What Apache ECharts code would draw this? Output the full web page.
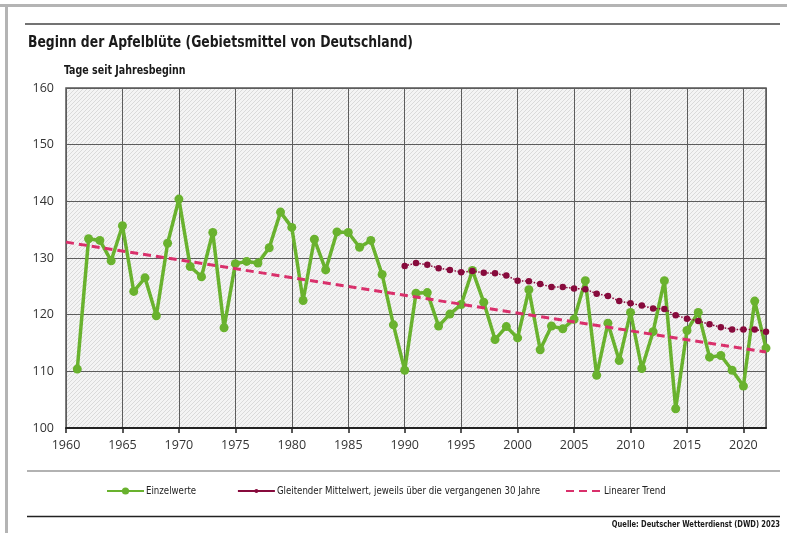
<!DOCTYPE html>
<html>
<head>
<meta charset="utf-8">
<script src="https://cdn.jsdelivr.net/npm/echarts@6/dist/echarts.min.js"></script>
<style>
  html, body { margin: 0; padding: 0; background: #fff; }
  #chart { width: 787px; height: 533px; }
</style>
</head>
<body>
<div id="chart"></div>
<script>
// Beginn der Apfelblüte, Tage seit Jahresbeginn (Gebietsmittel Deutschland)
const years = [
  1961, 1962, 1963, 1964, 1965, 1966, 1967, 1968, 1969, 1970,
  1971, 1972, 1973, 1974, 1975, 1976, 1977, 1978, 1979, 1980,
  1981, 1982, 1983, 1984, 1985, 1986, 1987, 1988, 1989, 1990,
  1991, 1992, 1993, 1994, 1995, 1996, 1997, 1998, 1999, 2000,
  2001, 2002, 2003, 2004, 2005, 2006, 2007, 2008, 2009, 2010,
  2011, 2012, 2013, 2014, 2015, 2016, 2017, 2018, 2019, 2020,
  2021, 2022
];
const einzelwerte = [
  110.4, 133.4, 133.1, 129.5, 135.7, 124.1, 126.5, 119.8, 132.6, 140.4,
  128.5, 126.7, 134.5, 117.7, 129.0, 129.4, 129.1, 131.8, 138.1, 135.4,
  122.5, 133.3, 127.9, 134.6, 134.5, 131.9, 133.1, 127.1, 118.2, 110.2,
  123.8, 123.9, 118.0, 120.1, 121.8, 127.8, 122.2, 115.6, 117.9, 115.9,
  124.4, 113.8, 118.0, 117.5, 119.2, 126.0, 109.3, 118.5, 111.9, 120.4,
  110.5, 117.0, 126.0, 103.4, 117.2, 120.4, 112.5, 112.8, 110.2, 107.4,
  122.4, 114.1
];
// 30-jähriges gleitendes Mittel, ab 1990
const mittelJahre = [
  1990, 1991, 1992, 1993, 1994, 1995, 1996, 1997, 1998, 1999,
  2000, 2001, 2002, 2003, 2004, 2005, 2006, 2007, 2008, 2009,
  2010, 2011, 2012, 2013, 2014, 2015, 2016, 2017, 2018, 2019,
  2020, 2021, 2022
];
const gleitenderMittelwert = [
  128.6, 129.1, 128.8, 128.2, 127.9, 127.5, 127.7, 127.4, 127.3, 126.9,
  126.0, 125.9, 125.4, 124.9, 124.9, 124.6, 124.5, 123.7, 123.3, 122.4,
  122.0, 121.6, 121.1, 121.0, 119.9, 119.3, 118.9, 118.3, 117.8, 117.4,
  117.4, 117.4, 117.0
];
// Linearer Trend: Anfangs- und Endpunkt
const trendJahre = [1960, 2022];
const trendWerte = [132.8, 113.4];

const xTicks = { min: 1960, max: 2022, interval: 5 };
const yTicks = { min: 100, max: 160, interval: 10 };

const seriesNames = [
  'Einzelwerte',
  'Gleitender Mittelwert, jeweils über die vergangenen 30 Jahre',
  'Linearer Trend'
];

const GREEN = '#69b22e';
const MAROON = '#870a3c';
const PINK = '#d9306b';
const NARROW = '"DejaVu Sans Condensed", "Liberation Sans", sans-serif';
const SANS = '"Open Sans", "Noto Sans", sans-serif';

// diagonal hatch for the plot background
function hatchPattern() {
  const c = document.createElement('canvas');
  c.width = 4; c.height = 4;
  const g = c.getContext('2d');
  g.fillStyle = '#f4f4f4';
  g.fillRect(0, 0, 4, 4);
  g.strokeStyle = '#dadada';
  g.lineWidth = 1;
  g.beginPath();
  g.moveTo(0, 4); g.lineTo(4, 0);
  g.moveTo(-1, 1); g.lineTo(1, -1);
  g.moveTo(3, 5); g.lineTo(5, 3);
  g.stroke();
  return c;
}

const zip = (xs, ys) => xs.map((x, i) => [x, ys[i]]);

// condensed heading text
function heading(text, x, y, size, scaleX, align) {
  return {
    type: 'text', x: x, y: y, scaleX: scaleX, silent: true,
    style: {
      text: text, fill: '#1a1a1a', align: align || 'left', verticalAlign: 'top',
      font: 'bold ' + size + 'px ' + NARROW
    }
  };
}

const legendText = { fontFamily: NARROW, fontSize: 9.6, color: '#222' };

const chart = echarts.init(document.getElementById('chart'), null, { renderer: 'canvas' });

chart.setOption({
  animation: false,
  backgroundColor: '#ffffff',
  graphic: [
    { type: 'rect', shape: { x: 0, y: 4, width: 787, height: 3 }, style: { fill: '#b4b4b4' }, silent: true },
    { type: 'rect', shape: { x: 5, y: 4, width: 3, height: 529 }, style: { fill: '#b4b4b4' }, silent: true },
    { type: 'line', shape: { x1: 25, y1: 24, x2: 780, y2: 24 }, style: { stroke: '#444', lineWidth: 1.5 }, silent: true },
    { type: 'line', shape: { x1: 27, y1: 471, x2: 780, y2: 471 }, style: { stroke: '#999', lineWidth: 1.5 }, silent: true },
    { type: 'line', shape: { x1: 27, y1: 516.5, x2: 780, y2: 516.5 }, style: { stroke: '#222', lineWidth: 1.5 }, silent: true },
    heading('Beginn der Apfelblüte (Gebietsmittel von Deutschland)', 28, 35, 16, 0.86),
    heading('Tage seit Jahresbeginn', 64, 65, 12, 0.88),
    heading('Quelle: Deutscher Wetterdienst (DWD) 2023', 780, 520, 9, 0.83, 'right')
  ],
  legend: [
    {
      data: [seriesNames[0]],
      left: 106, top: 486, padding: 0, itemWidth: 37, itemHeight: 9, itemGap: 0,
      textStyle: Object.assign({ padding: [0, 0, 0, -3] }, legendText)
    },
    {
      data: [{ name: seriesNames[1], lineStyle: { type: 'solid', width: 1.8 } }],
      left: 237, top: 486, padding: 0, itemWidth: 37, itemHeight: 5, itemGap: 0,
      textStyle: Object.assign({ padding: [0, 0, 0, -3] }, legendText)
    },
    {
      data: [{ name: seriesNames[2], itemStyle: { color: 'rgba(0,0,0,0)', borderWidth: 0 } }],
      left: 565, top: 486, padding: 0, itemWidth: 34, itemHeight: 9, itemGap: 0,
      textStyle: Object.assign({ padding: [0, 0, 0, -1] }, legendText)
    }
  ],
  grid: {
    left: 66, right: 21, top: 88, bottom: 105,
    show: true,
    backgroundColor: { image: hatchPattern(), repeat: 'repeat' },
    borderColor: '#555',
    borderWidth: 1.5,
    containLabel: false
  },
  xAxis: {
    type: 'value',
    min: xTicks.min, max: xTicks.max, interval: xTicks.interval,
    axisLine: { show: true, onZero: false, lineStyle: { color: '#222', width: 2 } },
    axisTick: { show: true, inside: false, length: 5, lineStyle: { color: '#222', width: 1.5 } },
    axisLabel: {
      margin: 11, showMaxLabel: false,
      formatter: (v) => String(v),
      fontFamily: SANS, fontSize: 12.5, color: '#333'
    },
    splitLine: { show: true, lineStyle: { color: '#5c5c5c', width: 1 } }
  },
  yAxis: {
    type: 'value',
    min: yTicks.min, max: yTicks.max, interval: yTicks.interval,
    axisLine: { show: false },
    axisTick: { show: false },
    axisLabel: { margin: 12, fontFamily: SANS, fontSize: 12.5, color: '#333' },
    splitLine: { show: true, lineStyle: { color: '#5c5c5c', width: 1 } }
  },
  series: [
    {
      name: seriesNames[0],
      type: 'line',
      data: zip(years, einzelwerte),
      z: 2,
      symbol: 'circle', symbolSize: 9, showAllSymbol: true,
      itemStyle: { color: GREEN },
      lineStyle: { color: GREEN, width: 3.5 }
    },
    {
      name: seriesNames[2],
      type: 'line',
      data: zip(trendJahre, trendWerte),
      z: 3,
      symbol: 'none',
      itemStyle: { color: PINK },
      lineStyle: { color: PINK, width: 3, type: [8, 5] }
    },
    {
      name: seriesNames[1],
      type: 'line',
      data: zip(mittelJahre, gleitenderMittelwert),
      z: 4,
      symbol: 'circle', symbolSize: 6.5, showAllSymbol: true,
      itemStyle: { color: MAROON },
      lineStyle: { color: MAROON, width: 1.5, type: 'dotted' }
    }
  ]
});
</script>
</body>
</html>
